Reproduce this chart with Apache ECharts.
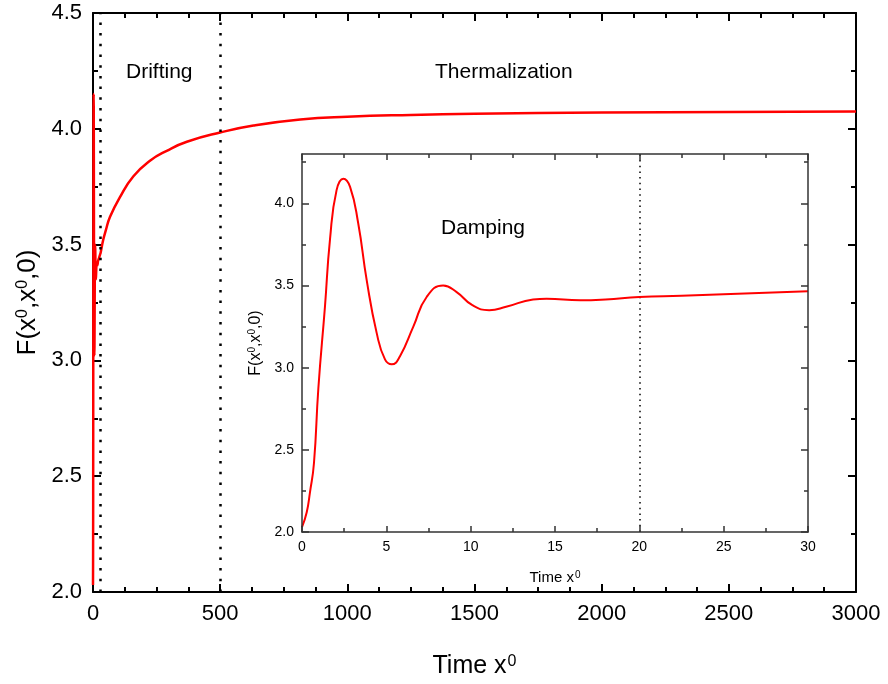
<!DOCTYPE html>
<html>
<head>
<meta charset="utf-8">
<script src="https://cdn.jsdelivr.net/npm/echarts@6/dist/echarts.min.js"></script>
<style>
html,body{margin:0;padding:0;background:#fff;}
#c{width:888px;height:684px;}
</style>
</head>
<body>
<div id="c"></div>
<script>
// ---- data ----
// inset: early-time oscillation, 0..30
const insetT = [0, 0.28, 0.47, 0.71, 0.97, 1.36, 1.66, 2.05, 2.45, 2.85, 3.33, 3.84, 4.43, 4.92, 5.32, 5.81, 6.6, 7.39, 8.37, 9.17, 10.1, 11.1, 12.1, 13.7, 14.5, 16.5, 18, 20, 22.5, 25, 27.5, 30];
const insetF = [2.03, 2.12, 2.24, 2.42, 2.875, 3.37, 3.78, 4.08, 4.15, 4.10, 3.88, 3.53, 3.21, 3.05, 3.02, 3.07, 3.25, 3.43, 3.50, 3.46, 3.38, 3.35, 3.37, 3.415, 3.42, 3.41, 3.415, 3.43, 3.438, 3.447, 3.456, 3.465];
// main: long-time drift beyond 30
const lateT = [40, 50, 67, 106, 159, 224, 290, 369, 500, 631, 815, 1000, 1250, 1500, 2000, 2500, 3000];
const lateF = [3.52, 3.56, 3.62, 3.705, 3.795, 3.862, 3.905, 3.944, 3.984, 4.014, 4.04, 4.052, 4.06, 4.065, 4.07, 4.073, 4.075];
// dotted region dividers
const mainDividers = [30, 500];
const insetDividers = [20];
// axis ranges / ticks
const mainX = {min: 0, max: 3000, interval: 500};
const mainY = {min: 2.0, max: 4.5, interval: 0.5};
const insetX = {min: 0, max: 30, interval: 5};
const insetY = {min: 2.0, max: 4.3, interval: 0.5};
const insetYMajor = [2.0, 2.5, 3.0, 3.5, 4.0];
const insetYMinor = [2.25, 2.75, 3.25, 3.75, 4.25];
// labels
const regionLabels = ['Drifting', 'Thermalization', 'Damping'];

const FONT = 'Liberation Sans, Arial, Helvetica, sans-serif';
const mainData = insetT.map((t, i) => [t, insetF[i]]).concat(lateT.map((t, i) => [t, lateF[i]]));
const insetData = insetT.map((t, i) => [t, insetF[i]]);

function mainXAxis(pos, labels) {
  return {
    type: 'value', gridIndex: 0, position: pos,
    min: mainX.min, max: mainX.max, interval: mainX.interval,
    axisLine: {show: true, onZero: false, lineStyle: {color: '#000', width: 2}},
    axisTick: {show: true, inside: true, length: 8, lineStyle: {color: '#000', width: 2}},
    minorTick: {show: true, splitNumber: 4, length: 5, lineStyle: {color: '#000', width: 2}},
    splitLine: {show: false},
    axisLabel: {show: labels, fontSize: 22, color: '#000', fontFamily: FONT, margin: 11, formatter: v => String(v)},
    name: labels ? '{t|Time x}{s|0}' : '', nameLocation: 'middle', nameGap: 62,
    nameTextStyle: {fontFamily: FONT, color: '#000', rich: {
      t: {fontSize: 25, fontFamily: FONT, color: '#000'},
      s: {fontSize: 16, fontFamily: FONT, color: '#000', verticalAlign: 'top', padding: [0, 0, 8, 1]}
    }}
  };
}
function mainYAxis(pos, labels) {
  return {
    type: 'value', gridIndex: 0, position: pos,
    min: mainY.min, max: mainY.max, interval: mainY.interval,
    axisLine: {show: true, onZero: false, lineStyle: {color: '#000', width: 2}},
    axisTick: {show: true, inside: true, length: 8, lineStyle: {color: '#000', width: 2}},
    minorTick: {show: true, splitNumber: 2, length: 5, lineStyle: {color: '#000', width: 2}},
    splitLine: {show: false},
    axisLabel: {show: labels, fontSize: 22, color: '#000', fontFamily: FONT, margin: 11, formatter: v => v.toFixed(1)},
    name: labels ? '{t|F(x}{s|0}{t|,x}{s|0}{t|,0)}' : '', nameLocation: 'middle', nameGap: 50,
    nameTextStyle: {fontFamily: FONT, color: '#000', rich: {
      t: {fontSize: 26, fontFamily: FONT, color: '#000'},
      s: {fontSize: 16, fontFamily: FONT, color: '#000', verticalAlign: 'top', padding: [0, 0, 8, 0]}
    }}
  };
}
const ILC = '#333';
function insetXAxis(pos, labels) {
  return {
    type: 'value', gridIndex: 1, position: pos, z: 8,
    min: insetX.min, max: insetX.max, interval: insetX.interval,
    axisLine: {show: true, onZero: false, lineStyle: {color: ILC, width: 1.5}},
    axisTick: {show: true, inside: true, length: 6, lineStyle: {color: ILC, width: 1.5}},
    minorTick: {show: true, splitNumber: 2, length: 4, lineStyle: {color: ILC, width: 1.5}},
    splitLine: {show: false},
    axisLabel: {show: labels, fontSize: 14, color: '#000', fontFamily: FONT, margin: 8},
    name: labels ? '{t|Time x}{s|0}' : '', nameLocation: 'middle', nameGap: 38,
    nameTextStyle: {fontFamily: FONT, color: '#000', rich: {
      t: {fontSize: 15, fontFamily: FONT, color: '#000'},
      s: {fontSize: 10, fontFamily: FONT, color: '#000', verticalAlign: 'top', padding: [0, 0, 5, 1]}
    }}
  };
}
function insetYAxis(pos, major, labels) {
  const vals = major ? insetYMajor : insetYMinor;
  return {
    type: 'value', gridIndex: 1, position: pos, z: 8,
    min: insetY.min, max: insetY.max, interval: insetY.interval,
    axisLine: {show: major, onZero: false, lineStyle: {color: ILC, width: 1.5}},
    axisTick: {show: true, inside: true, length: major ? 7 : 4, customValues: vals, lineStyle: {color: ILC, width: 1.5}},
    splitLine: {show: false},
    axisLabel: {show: labels, customValues: insetYMajor, fontSize: 14, color: '#000', fontFamily: FONT, margin: 8, formatter: v => v.toFixed(1)},
    name: labels ? '{t|F(x}{s|0}{t|,x}{s|0}{t|,0)}' : '', nameLocation: 'middle', nameGap: 37,
    nameTextStyle: {fontFamily: FONT, color: '#000', rich: {
      t: {fontSize: 16, fontFamily: FONT, color: '#000'},
      s: {fontSize: 10, fontFamily: FONT, color: '#000', verticalAlign: 'top', padding: [0, 0, 5, 0]}
    }}
  };
}

const chart = echarts.init(document.getElementById('c'), null, {renderer: 'canvas'});
chart.setOption({
  backgroundColor: '#fff',
  animation: false,
  grid: [
    {left: 93, top: 13, width: 763, height: 586, containLabel: false},
    {left: 302, top: 154, width: 506, height: 378, containLabel: false, show: true, backgroundColor: '#fff', borderWidth: 0, z: 1}
  ],
  xAxis: [mainXAxis('bottom', true), mainXAxis('top', false), insetXAxis('bottom', true), insetXAxis('top', false)],
  yAxis: [mainYAxis('left', true), mainYAxis('right', false),
          insetYAxis('left', true, true), insetYAxis('left', false, false),
          insetYAxis('right', true, false), insetYAxis('right', false, false)],
  series: [
    {
      type: 'line', xAxisIndex: 0, yAxisIndex: 0, data: mainData, showSymbol: false, smooth: 0.5,
      lineStyle: {color: '#ff0000', width: 2.5}, z: 3,
      markLine: {
        silent: true, symbol: ['none', 'none'], label: {show: false},
        lineStyle: {color: '#000', width: 2.5, type: [2.5, 8.2], cap: 'butt'},
        data: mainDividers.map(v => ({xAxis: v}))
      }
    },
    {
      type: 'line', xAxisIndex: 2, yAxisIndex: 2, data: insetData, showSymbol: false, smooth: 0.5,
      lineStyle: {color: '#ff0000', width: 2}, z: 6,
      markLine: {
        silent: true, symbol: ['none', 'none'], label: {show: false},
        lineStyle: {color: '#000', width: 1.5, type: [1.5, 4.2], cap: 'butt'},
        data: insetDividers.map(v => ({xAxis: v}))
      }
    }
  ],
  graphic: [
    {type: 'text', left: 126, top: 62, z: 10, style: {text: regionLabels[0], font: '21px ' + FONT, fill: '#000'}},
    {type: 'text', left: 435, top: 62, z: 10, style: {text: regionLabels[1], font: '21px ' + FONT, fill: '#000'}},
    {type: 'text', left: 441, top: 218, z: 10, style: {text: regionLabels[2], font: '21px ' + FONT, fill: '#000'}}
  ]
});
</script>
</body>
</html>
